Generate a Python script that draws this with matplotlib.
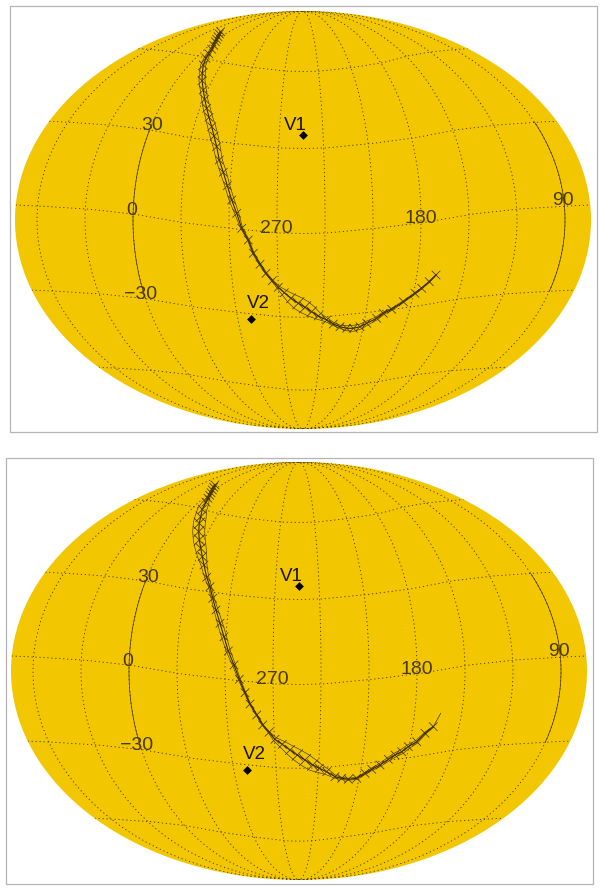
import matplotlib
matplotlib.use("Agg")
import matplotlib.pyplot as plt
import numpy as np
from matplotlib.patches import Ellipse, Rectangle

# track nodes, in map pixels
top_x = [220.7, 219.3, 218, 216.7, 215.3, 213.7, 211.7, 208.7, 206, 203.3, 202.3, 202, 203.3, 204.7, 206.7, 209, 211.7,
         214, 216.7, 219.3, 223.3, 227.3, 231.7, 236.7, 241.7, 248.3, 253.3, 260, 266, 272.3, 278.3, 284.3, 291, 298.3,
         305, 311.7, 318.3, 326.7, 333.3, 340, 346.7, 353.3, 360, 366.7, 376.7, 383.3, 391.7, 403.3, 415, 421.7, 429.3, 436]
top_y = [31.7, 34, 36.7, 39.3, 41.7, 45.3, 49.3, 53.7, 58.3, 65, 73.3, 80.7, 90, 99.3, 108.3, 117.3, 126.7,
         136, 146.7, 160, 172.3, 185.7, 200, 213.3, 228.3, 240, 253.3, 264.3, 273.3, 280.7, 287.3, 292.7, 298.3, 303.3,
         307.3, 311.7, 316, 320, 324, 326.7, 328.3, 328.3, 326.7, 323.3, 318.3, 313.3, 309.3, 301.7, 293.3, 288.3, 281.7, 275]
top_band = [1, 1, 1, 1, 1, 1, 1.2, 1.5, 2, 2.5, 3, 3, 3, 3, 3.5, 3.5, 4,
            4, 3.5, 3, 3, 2.5, 2.5, 2, 1, 0.8, 0.8, 0.8, 0.8, 0.8, 1.5, 3, 5, 6.5,
            6.5, 5.5, 3.5, 2, 1.5, 1.5, 2.5, 3, 2.5, 2, 1.5, 1.2, 1, 0.8, 0.7, 0.6, 0.5, 0.3]

bot_x = [215, 213.7, 212.3, 211, 209.7, 208, 206, 202.3, 200.7, 199.3, 198.7, 199.3, 200.7, 202.3, 204, 206.7, 210,
         212.7, 216, 220, 224, 228.3, 234, 239.3, 245, 250, 256.7, 262.7, 269, 275, 282.3, 290, 297.3, 305, 312.7,
         319.3, 326.7, 335, 341.7, 348.3, 356.7, 365, 371.7, 380, 388.3, 395, 401.7, 408.3, 416.7, 425, 433.3]
bot_y = [485, 487.3, 490, 492.7, 495.3, 498.3, 502.3, 509.3, 516.7, 523.3, 531.7, 540, 548.3, 556.7, 565, 577.3, 586.7,
         598.3, 610, 623.3, 636.7, 651, 665, 679.3, 692.7, 704, 715, 725, 732.3, 739.3, 744.3, 750, 755, 760, 765,
         768.3, 771.7, 776.7, 778.3, 779.3, 778.3, 773.3, 769.3, 765, 759.3, 755, 751.7, 746.7, 741.7, 733.3, 726.7]
bot_band = [1, 1, 1, 1, 1, 1.5, 3, 4.5, 5.5, 6, 6, 6, 5.5, 4.5, 3, 2, 1.5,
            1.5, 2, 2.5, 2.5, 2, 1.5, 1, 0.8, 0.6, 0.6, 0.6, 0.8, 2, 3.5, 5, 6, 6.5, 6,
            4.5, 3, 1.5, 1, 1, 1, 1, 1.2, 1.5, 1.8, 2, 2.2, 2, 1.5, 1, 0.5]
bot_tail_x = [433.3, 440.7]
bot_tail_y = [726.7, 713.3]

# labels of the graticule and the two reference points
lat_labels = ["30", "0", "\u221230"]
lat_label_x = [152, 132, 141]
lat_label_y = [126, 210, 294]
lon_labels = ["270", "180", "90"]
lon_label_x = [276, 421, 563]
lon_label_y = [228, 218, 200]
point_names = ["V1", "V2"]
point_x = [303, 251]
point_y = [135, 319]
name_x = [295, 258]
name_y = [125, 303]

grid_lons = np.arange(0, 360, 30)
grid_lats = [60, 30, 0, -30, -60]
center_lon = 253.75

# sag of the parallels against distance from the central meridian
sag_f = [0, 0.083, 0.25, 0.42, 0.59, 0.75, 0.92, 1]
sag_px = [13.5, 13, 8.5, 2.5, -6, -11, -14, -15]

FILL = "#f2c600"
INK = "#463400"
BOX = "#b4b4b4"
CX, CY, RX, RY = 303, 220, 288, 209


def graticule(dlon, lat):
    """dlon and lat in degrees to map pixels around the ellipse centre"""
    phi = np.radians(lat)
    theta = phi.copy()
    for _ in range(60):
        den = 2 + 2 * np.cos(2 * theta)
        step = (2 * theta + np.sin(2 * theta) - np.pi * np.sin(phi)) / np.maximum(den, 1e-4)
        theta = np.clip(theta - step * 0.7, -np.pi / 2, np.pi / 2)
    sag = np.interp(np.abs(dlon) / 180, sag_f, sag_px) * np.sqrt(np.abs(np.cos(theta)))
    y = RY * np.sin(theta) - sag
    x = dlon / 180 * RX * np.sqrt(np.clip(1 - (y / RY) ** 2, 0, 1))
    return CX + x, CY - y


def draw_grid(ax, ox, oy, clip):
    dotted = (0, (1.4, 3.2))
    for lon in grid_lons:
        dlon = (center_lon - lon + 180) % 360 - 180
        lat = np.linspace(-90, 90, 300)
        x, y = graticule(np.full_like(lat, dlon), lat)
        line, = ax.plot(x + ox, y + oy, color=INK, lw=0.62, ls=dotted)
        line.set_clip_path(clip)
        if lon in (0, 90):
            lat = np.linspace(-30, 30, 80)
            x, y = graticule(np.full_like(lat, dlon), lat)
            ax.plot(x + ox, y + oy, color=INK, lw=0.5)
    for lat in grid_lats:
        dlon = np.linspace(-180, 180, 500)
        x, y = graticule(dlon, np.full_like(dlon, lat, dtype=float))
        line, = ax.plot(x + ox, y + oy, color=INK, lw=0.62, ls=dotted)
        line.set_clip_path(clip)


def draw_track(ax, xs, ys, band):
    xs, ys, band = np.array(xs), np.array(ys), np.array(band)
    dx, dy = np.gradient(xs), np.gradient(ys)
    norm = np.hypot(dx, dy)
    nx, ny = -dy / norm, dx / norm
    ax.plot(xs + nx * band, ys + ny * band, color=INK, lw=0.45)
    ax.plot(xs - nx * band, ys - ny * band, color=INK, lw=0.45)
    ax.plot(xs, ys, color="#2a1c00", lw=0.75)
    size = np.maximum(8.5, 1.6 * band + 1.5) * 0.72
    ax.scatter(xs, ys, s=size ** 2, marker="x", color=INK, linewidths=0.55, zorder=3)


def draw_panel(ax, ox, oy, box, xs, ys, band):
    ax.add_patch(Rectangle((box[0], box[1]), box[2], box[3], fill=False, ec=BOX, lw=0.9))
    ell = Ellipse((CX + ox, CY + oy), 2 * RX, 2 * RY, fc=FILL, ec="none")
    ax.add_patch(ell)
    draw_grid(ax, ox, oy, ell)
    draw_track(ax, xs, ys, band)
    text_kw = dict(ha="center", va="center", fontsize=14, color="#4a3a00", family="Liberation Sans")
    for s, x, y in zip(lat_labels, lat_label_x, lat_label_y):
        ax.text(x + ox, y + oy, s, **text_kw)
    for s, x, y in zip(lon_labels, lon_label_x, lon_label_y):
        ax.text(x + ox, y + oy, s, **text_kw)
    for s, x, y in zip(point_names, name_x, name_y):
        ax.text(x + ox, y + oy, s, ha="center", va="center", fontsize=13.5, color="#1a1400", family="Liberation Sans")
    ax.scatter(np.array(point_x) + ox, np.array(point_y) + oy, s=20, marker="D", color="black", linewidths=0, zorder=4)


fig = plt.figure(figsize=(6, 8.88), dpi=100)
ax = fig.add_axes([0, 0, 1, 1])
ax.set_xlim(0, 600)
ax.set_ylim(888, 0)
ax.axis("off")

draw_panel(ax, 0, 0, (9.5, 6, 587, 426), top_x, top_y, top_band)
draw_panel(ax, -4, 451, (5.5, 457.5, 587, 426), bot_x, bot_y, bot_band)
ax.plot(bot_tail_x, bot_tail_y, color=INK, lw=0.5)

fig.savefig("out.png", dpi=100)
